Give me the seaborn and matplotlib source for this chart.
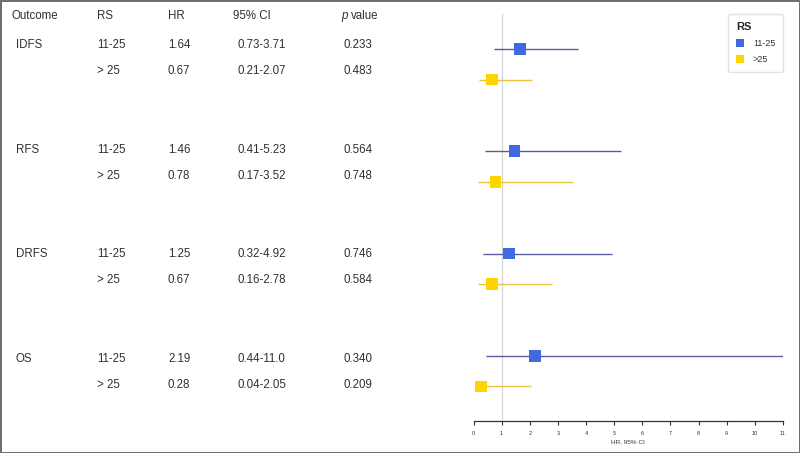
import numpy as np
import pandas as pd
import seaborn as sns
import matplotlib.pyplot as plt
from matplotlib.lines import Line2D

sns.set_theme(style="white")
plt.rcParams['font.family'] = ['Liberation Sans', 'DejaVu Sans']

# data
outcomes = ["IDFS", "RFS", "DRFS", "OS"]
rs_groups = ["11-25", ">25"]
rs_table = ["11-25", "> 25"]

hr_mid = [1.64, 1.46, 1.25, 2.19]
lo_mid = [0.73, 0.41, 0.32, 0.44]
hi_mid = [3.71, 5.23, 4.92, 11.0]
p_mid = [0.233, 0.564, 0.746, 0.340]

hr_high = [0.67, 0.78, 0.67, 0.28]
lo_high = [0.21, 0.17, 0.16, 0.04]
hi_high = [2.07, 3.52, 2.78, 2.05]
p_high = [0.483, 0.748, 0.584, 0.209]

x_ticks = list(range(0, 12))

marker_colors = {"11-25": "#4169E1", ">25": "#FFD500"}
line_colors = {"11-25": "#575c9c", ">25": "#e8c440"}
text_color = "#303030"

rows = []
for g, name in enumerate(outcomes):
    for s, (rs, hr, lo, hi, p) in enumerate([
            (rs_groups[0], hr_mid[g], lo_mid[g], hi_mid[g], p_mid[g]),
            (rs_groups[1], hr_high[g], lo_high[g], hi_high[g], p_high[g])]):
        rows.append({"outcome": name, "RS": rs, "RS_txt": rs_table[s],
                     "HR": hr, "lo": lo, "hi": hi, "p": p,
                     "group": g, "sub": s})
df = pd.DataFrame(rows)
# layout in pixel units from the top of the figure
df["y"] = 49 + df["group"] * 102.3 + df["sub"] * 30.5
df["ty"] = 45 + df["group"] * 104.6 + df["sub"] * 26

fig = plt.figure(figsize=(8, 4.53), dpi=100)
fig.patch.set_facecolor("white")
fig.patch.set_edgecolor("#707070")
fig.patch.set_linewidth(2)

# table part
tab = fig.add_axes([0, 0, 1, 1])
tab.set_xlim(0, 800)
tab.set_ylim(453, 0)
tab.axis("off")

fs = 8.3
hy = 16
tab.text(12, hy, "Outcome", fontsize=fs, va="center", color=text_color)
tab.text(97, hy, "RS", fontsize=fs, va="center", color=text_color)
tab.text(168, hy, "HR", fontsize=fs, va="center", color=text_color)
tab.text(233, hy, "95% CI", fontsize=fs, va="center", color=text_color)
tab.text(341, hy, "p", fontsize=fs, va="center", color=text_color, style="italic")
tab.text(351, hy, "value", fontsize=fs, va="center", color=text_color)

for _, r in df.iterrows():
    if r["sub"] == 0:
        tab.text(16, r["ty"], r["outcome"], fontsize=fs, va="center", color=text_color)
    tab.text(97, r["ty"], r["RS_txt"], fontsize=fs, va="center", color=text_color)
    tab.text(168, r["ty"], f"{r['HR']:.2f}", fontsize=fs, va="center", color=text_color)
    tab.text(237, r["ty"], f"{r['lo']:.2f}-{r['hi']:#.3g}", fontsize=fs, va="center", color=text_color)
    tab.text(343, r["ty"], f"{r['p']:.3f}", fontsize=fs, va="center", color=text_color)

# forest part
ax = fig.add_axes([473.5 / 800, 32 / 453, (783 - 473.5) / 800, (421 - 8) / 453])
ax.patch.set_alpha(0)
ax.set_xlim(0, 11)
ax.set_ylim(421, 8)
ax.axvline(1, ymin=0, ymax=(421 - 14) / (421 - 8), color="#d4d4d4", lw=0.9, zorder=1)

for rs in rs_groups:
    d = df[df["RS"] == rs]
    ax.hlines(d["y"], d["lo"], d["hi"], color=line_colors[rs], lw=1.0, zorder=2)

sns.scatterplot(data=df, x="HR", y="y", hue="RS", palette=marker_colors,
                marker="s", s=72, linewidth=0, legend=False, ax=ax, zorder=3,
                clip_on=False)

for side in ["top", "right", "left"]:
    ax.spines[side].set_visible(False)
ax.spines["bottom"].set_color("#333333")
ax.spines["bottom"].set_linewidth(0.9)
ax.set_yticks([])
ax.set_xticks(x_ticks)
ax.tick_params(axis="x", bottom=True, length=3, width=0.8, color="#333333",
               labelsize=4, pad=4, labelcolor="#333333")
ax.set_xlabel("HR, 95% CI", fontsize=4.6, labelpad=2.5, color="#333333")
ax.set_ylabel("")

handles = [Line2D([], [], marker="s", ls="", color=marker_colors[rs],
                  markersize=6, markeredgewidth=0) for rs in rs_groups]
leg = fig.legend(handles, rs_groups, title="RS", loc="upper right",
                 bbox_to_anchor=(783 / 800, 1 - 14 / 453), fontsize=6.5,
                 title_fontsize=8, frameon=True, fancybox=True,
                 edgecolor="#dddddd", handlelength=1, handletextpad=0.9,
                 labelspacing=0.8, borderpad=0.85, borderaxespad=0,
                 alignment="left")
leg.get_title().set_fontweight("bold")
for t in leg.get_texts():
    t.set_color("#333333")

fig.savefig("out.png", dpi=100, facecolor="white", edgecolor=fig.get_edgecolor())
